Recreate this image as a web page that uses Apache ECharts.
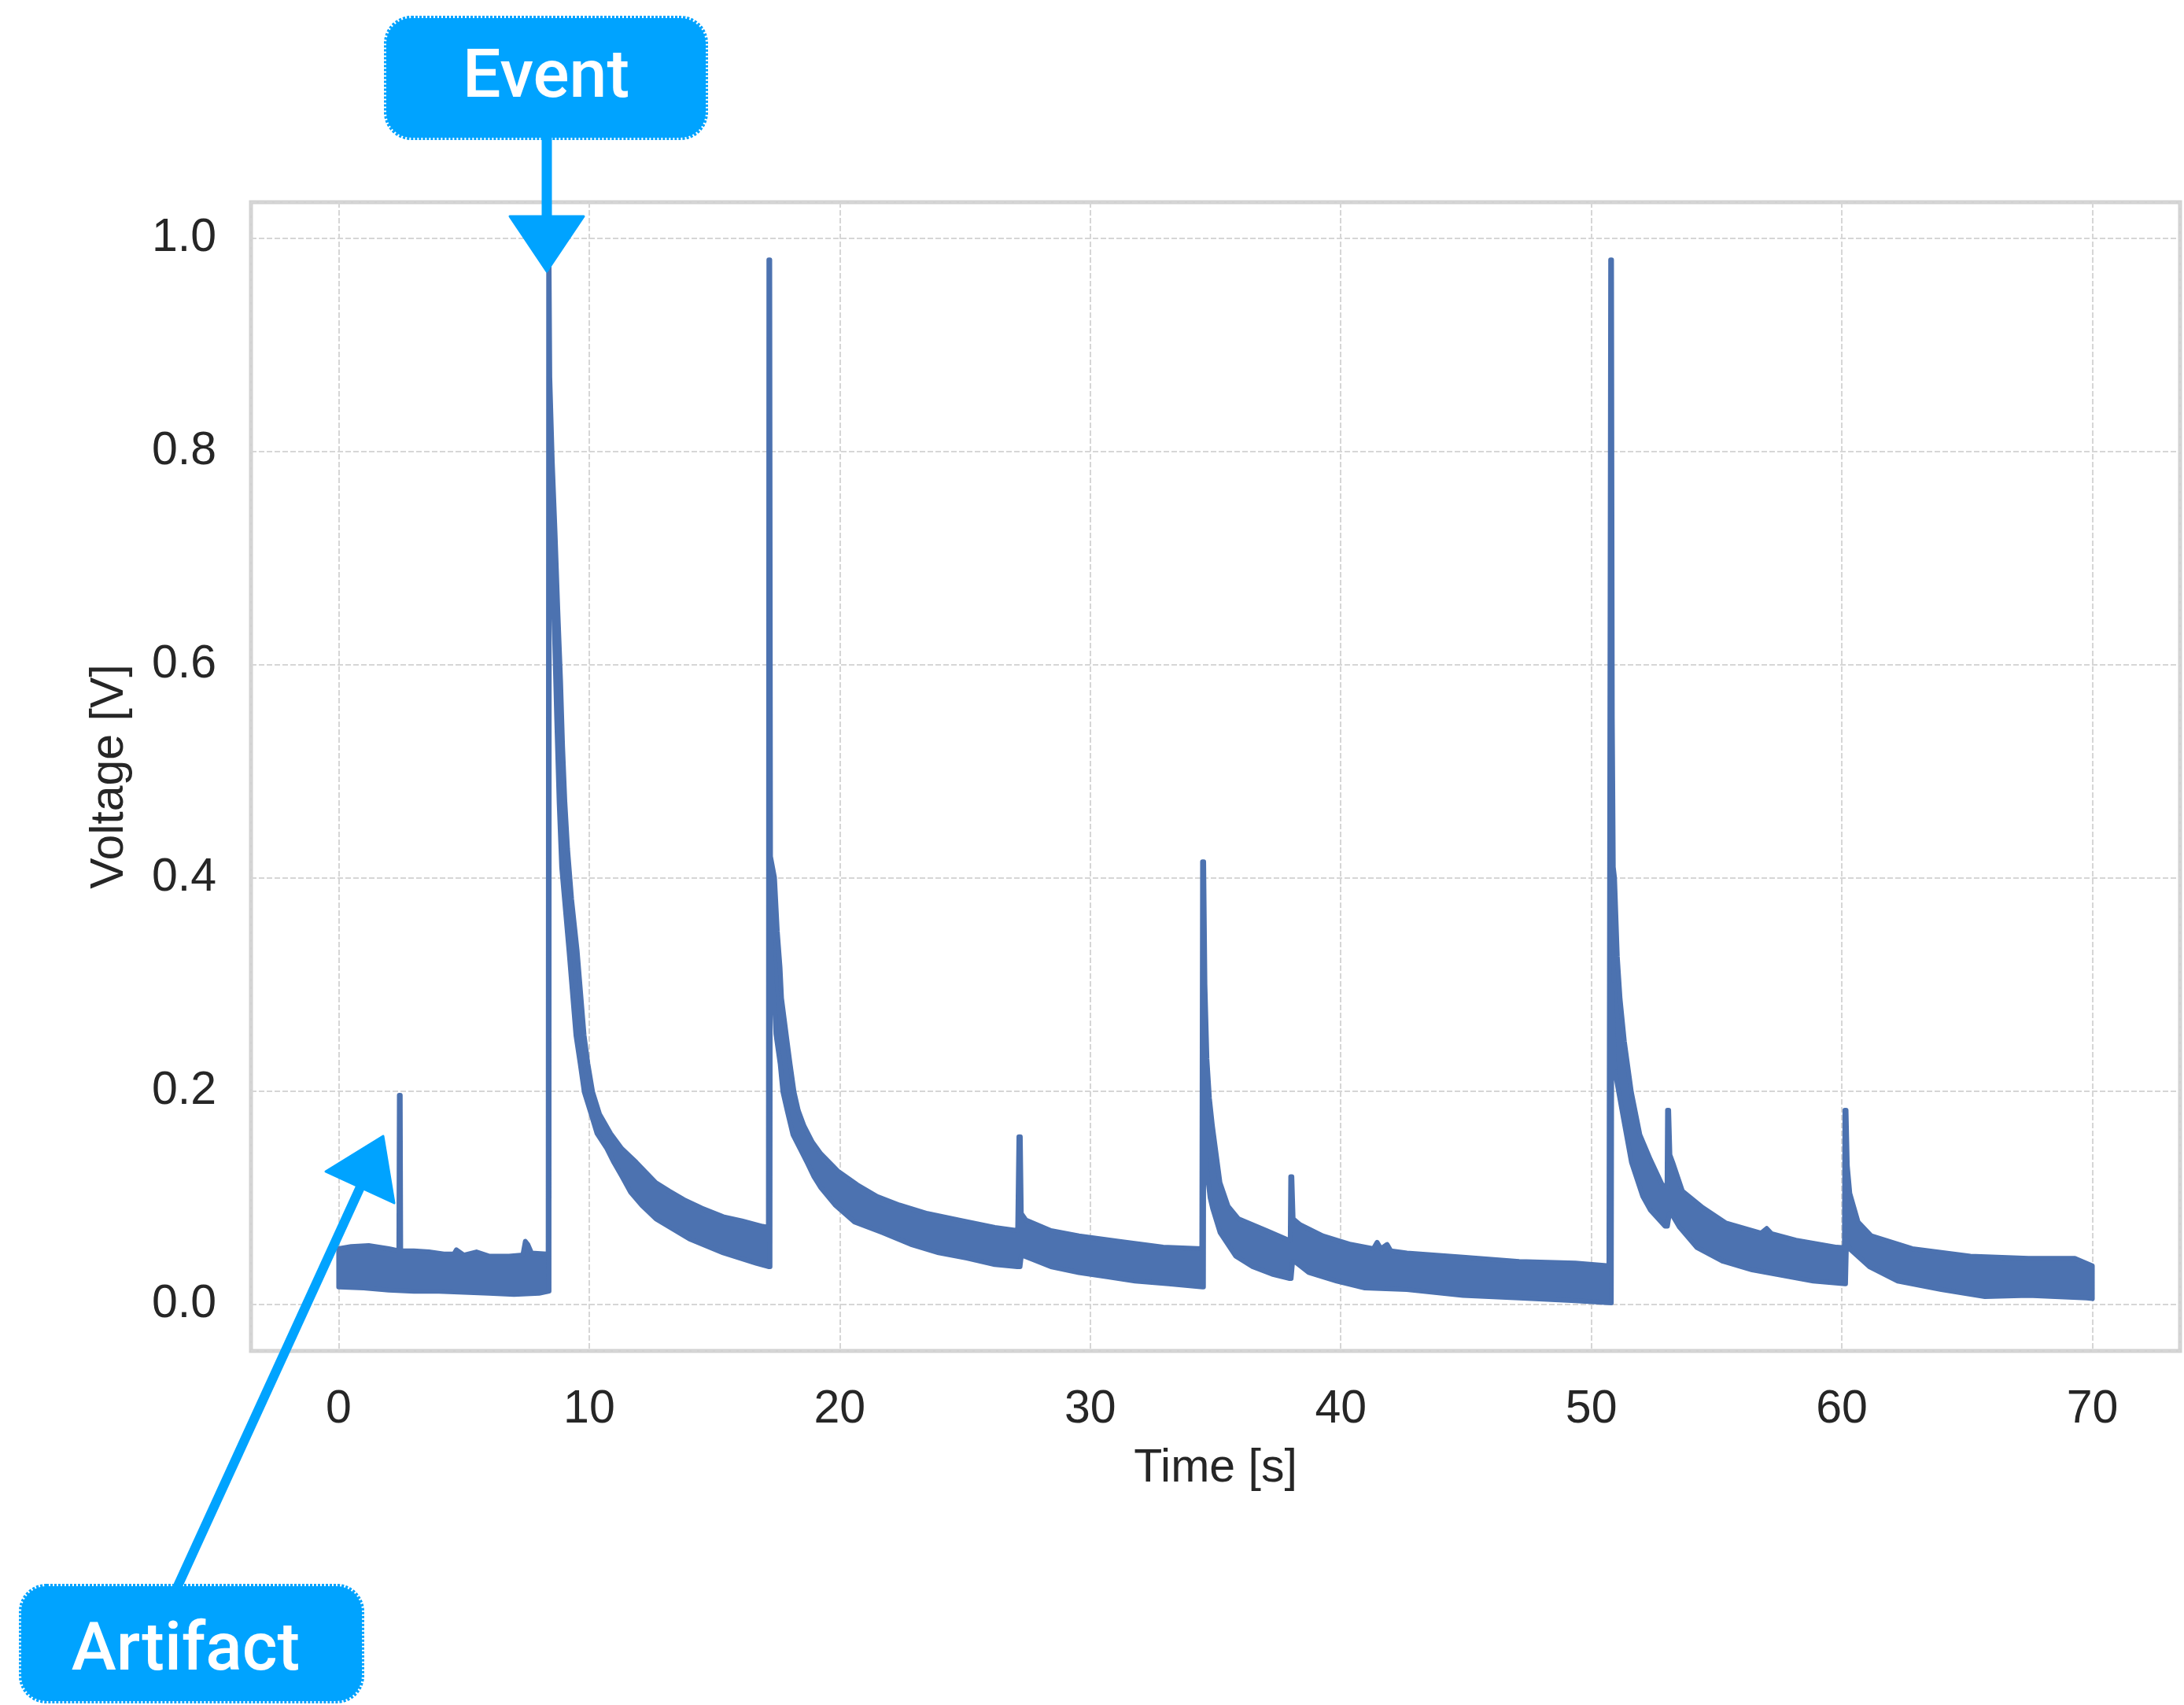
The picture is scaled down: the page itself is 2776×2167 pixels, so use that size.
<!DOCTYPE html>
<html>
<head>
<meta charset="utf-8">
<script src="https://cdn.jsdelivr.net/npm/echarts@6/dist/echarts.min.js"></script>
<style>
html,body{margin:0;padding:0;background:#fff;}
#chart{width:2776px;height:2167px;}
</style>
</head>
<body>
<div id="chart"></div>
<script>
// ---- Data: upper and lower envelope of the noisy voltage trace ----
const upperTime = [
  0.00, 0.5, 1.2, 2.0, 2.40, 2.42, 2.46, 2.48, 3.0, 3.6, 4.2, 4.6, 4.7, 5.0, 5.5, 6.0, 6.8, 7.35, 7.45, 7.55, 7.7, 8.3, 8.36,
  8.38, 8.40, 8.43, 8.53, 8.64, 8.75, 8.86, 8.94, 9.03, 9.14, 9.30, 9.52, 9.80, 9.95, 10.14, 10.42, 10.86, 11.30, 11.88, 12.66, 13.2, 13.78, 14.5, 15.35, 16.1, 16.92, 17.15,
  17.17, 17.21, 17.24, 17.40, 17.51, 17.62, 17.68, 17.90, 18.02, 18.18, 18.35, 18.58, 18.91, 19.25, 19.92, 20.70, 21.49, 22.38, 23.50, 24.85, 26.19, 27.10, 27.15, 27.21, 27.25, 27.43, 28.43, 29.55, 31.23, 32.91, 34.45,
  34.48, 34.53, 34.58, 34.66, 34.76, 34.88, 35.18, 35.5, 35.92, 37.04, 37.82, 37.98, 38.00, 38.05, 38.10, 38.38, 39.28, 40.40, 41.3, 41.45, 41.6, 41.85, 42.0, 42.64, 44.88, 47.12, 49.36, 50.70,
  50.77, 50.81, 50.84, 50.88, 50.93, 51.04, 51.15, 51.32, 51.60, 51.94, 52.36, 52.83, 53.02, 53.04, 53.09, 53.14, 53.25, 53.64, 54.45, 55.38, 56.77, 57.0, 57.2, 58.17, 59.79, 60.10,
  60.12, 60.17, 60.22, 60.32, 60.65, 61.18, 62.81, 65.13, 67.45, 69.30, 70.0
];
const upperVolt = [
  0.052, 0.054, 0.055, 0.052, 0.050, 0.196, 0.196, 0.050, 0.050, 0.049, 0.047, 0.047, 0.051, 0.046, 0.049, 0.045, 0.045, 0.046, 0.059, 0.056, 0.048, 0.047, 0.047,
  0.980, 0.980, 0.870, 0.790, 0.724, 0.651, 0.585, 0.524, 0.472, 0.427, 0.380, 0.332, 0.252, 0.2255, 0.199, 0.178, 0.160, 0.146, 0.133, 0.114, 0.106, 0.098, 0.090, 0.082, 0.078, 0.073, 0.072,
  0.980, 0.980, 0.420, 0.400, 0.350, 0.316, 0.287, 0.247, 0.2255, 0.199, 0.1815, 0.167, 0.152, 0.141, 0.125, 0.112, 0.101, 0.093, 0.085, 0.0785, 0.072, 0.069, 0.157, 0.157, 0.085, 0.079, 0.069, 0.064, 0.0586, 0.0534, 0.052,
  0.415, 0.415, 0.300, 0.230, 0.193, 0.167, 0.114, 0.092, 0.080, 0.069, 0.061, 0.060, 0.1195, 0.1195, 0.080, 0.0745, 0.064, 0.056, 0.052, 0.058, 0.052, 0.056, 0.050, 0.048, 0.044, 0.040, 0.0385, 0.036,
  0.980, 0.980, 0.550, 0.410, 0.400, 0.326, 0.2865, 0.2467, 0.199, 0.159, 0.1355, 0.112, 0.110, 0.182, 0.182, 0.140, 0.133, 0.106, 0.0905, 0.076, 0.0666, 0.071, 0.066, 0.060, 0.0534, 0.053,
  0.182, 0.182, 0.130, 0.104, 0.077, 0.064, 0.052, 0.045, 0.043, 0.043, 0.036
];
const lowerTime = [
  0.00, 1.0, 2.0, 3.0, 4.0, 5.0, 6.0, 7.0, 8.0, 8.40,
  8.41, 8.50, 8.60, 8.70, 8.80, 8.90, 9.19, 9.47, 9.64, 9.80, 10.08, 10.31, 10.70, 10.98, 11.31, 11.65, 12.10, 12.66, 14.0, 15.35, 16.69, 17.18,
  17.22, 17.23, 17.32, 17.40, 17.45, 17.62, 17.73, 17.90, 18.13, 18.41, 18.69, 18.97, 19.25, 19.81, 20.59, 21.71, 22.83, 23.95, 25.07, 26.19, 27.09, 27.20, 27.25, 27.36, 28.43, 29.55, 30.67, 31.79, 33.13, 34.48,
  34.52, 34.54, 34.63, 34.78, 34.88, 35.18, 35.80, 36.48, 37.26, 37.93, 38.02, 38.08, 38.15, 38.72, 39.84, 40.96, 42.64, 44.88, 47.12, 49.36, 50.80,
  50.82, 50.93, 51.29, 51.60, 52.05, 52.36, 52.94, 53.04, 53.12, 53.19, 53.52, 54.21, 55.26, 56.42, 57.58, 58.86, 60.13,
  60.15, 60.19, 60.30, 61.10, 62.23, 63.97, 65.71, 67.45, 69.77, 70.0
];
const lowerVolt = [
  0.016, 0.015, 0.013, 0.012, 0.012, 0.011, 0.010, 0.009, 0.010, 0.012,
  0.840, 0.740, 0.640, 0.550, 0.470, 0.410, 0.332, 0.252, 0.2255, 0.199, 0.178, 0.160, 0.146, 0.133, 0.1195, 0.105, 0.0925, 0.080, 0.061, 0.048, 0.038, 0.035,
  0.035, 0.360, 0.300, 0.280, 0.2535, 0.2255, 0.199, 0.1815, 0.159, 0.146, 0.133, 0.1195, 0.109, 0.093, 0.077, 0.067, 0.056, 0.048, 0.043, 0.037, 0.035, 0.035, 0.045, 0.045, 0.035, 0.0295, 0.0255, 0.0215, 0.019, 0.016,
  0.016, 0.250, 0.130, 0.100, 0.090, 0.067, 0.045, 0.035, 0.028, 0.024, 0.024, 0.040, 0.040, 0.0295, 0.0215, 0.015, 0.0135, 0.008, 0.0056, 0.003, 0.001,
  0.300, 0.220, 0.173, 0.133, 0.101, 0.088, 0.073, 0.073, 0.085, 0.085, 0.072, 0.053, 0.040, 0.032, 0.027, 0.0215, 0.019,
  0.019, 0.060, 0.052, 0.035, 0.0215, 0.0136, 0.007, 0.008, 0.0056, 0.005
];
const xLimits = [-3.5, 73.5];
const yLimits = [-0.044, 1.034];
const xTitle = 'Time [s]';
const yTitle = 'Voltage [V]';
const annotations = ['Event', 'Artifact'];

const chart = echarts.init(document.getElementById('chart'), null, {renderer: 'canvas'});
const labelFont = 'Liberation Sans, Arial, sans-serif';
const gridLine = {show: true, lineStyle: {color: '#d6d6d6', width: 2, type: [7, 3]}};
const ACCENT = '#00A3FF';
const boxStyle = {fill: ACCENT, stroke: ACCENT, lineWidth: 6, lineDash: [3, 2]};

const option = {
  backgroundColor: '#ffffff',
  animation: false,
  grid: {left: 319, right: 5, top: 257, bottom: 450, show: true, borderColor: '#d2d2d2', borderWidth: 5, backgroundColor: '#ffffff'},
  xAxis: {
    type: 'value', min: xLimits[0], max: xLimits[1], splitNumber: 8,
    axisLine: {show: false}, axisTick: {show: false},
    axisLabel: {showMinLabel: false, showMaxLabel: false, fontSize: 59, color: '#262626', margin: 45, fontFamily: labelFont},
    splitLine: gridLine,
    name: xTitle, nameLocation: 'middle', nameGap: 120,
    nameTextStyle: {fontSize: 59, color: '#262626', fontFamily: labelFont}
  },
  yAxis: {
    type: 'value', min: yLimits[0], max: yLimits[1], splitNumber: 5,
    axisLine: {show: false}, axisTick: {show: false},
    axisLabel: {showMinLabel: false, showMaxLabel: false, fontSize: 59, color: '#262626', margin: 44, fontFamily: labelFont,
      formatter: v => v.toFixed(1)},
    splitLine: gridLine,
    name: yTitle, nameLocation: 'middle', nameGap: 150,
    nameTextStyle: {fontSize: 59, color: '#262626', fontFamily: labelFont}
  },
  series: [{
    type: 'custom',
    data: [[35, 0.5]],
    encode: {x: 0, y: 1},
    renderItem: function (params, api) {
      const pts = [];
      for (let i = 0; i < upperTime.length; i++) pts.push(api.coord([upperTime[i], upperVolt[i]]));
      for (let i = lowerTime.length - 1; i >= 0; i--) pts.push(api.coord([lowerTime[i], lowerVolt[i]]));
      return {type: 'polygon', shape: {points: pts},
        style: {fill: '#4C72B0', stroke: '#4C72B0', lineWidth: 6, lineJoin: 'round'}};
    },
    z: 3
  }],
  graphic: [
    // Event callout
    {type: 'rect', shape: {x: 491, y: 23, width: 406, height: 152, r: 32}, style: boxStyle, z: 100},
    {type: 'text', x: 694, y: 101, style: {text: annotations[0], fill: '#ffffff', fontSize: 86, fontWeight: 500, fontFamily: 'Roboto, Liberation Sans, sans-serif', align: 'center', verticalAlign: 'middle'}, z: 101},
    {type: 'line', shape: {x1: 695, y1: 170, x2: 695, y2: 285}, style: {stroke: ACCENT, lineWidth: 13}, z: 100},
    {type: 'polygon', shape: {points: [[648, 275], [742, 275], [695, 345]]}, style: {fill: ACCENT, stroke: ACCENT, lineWidth: 3, lineJoin: 'round'}, z: 100},
    // Artifact callout
    {type: 'rect', shape: {x: 27, y: 2016, width: 433, height: 146, r: 32}, style: boxStyle, z: 100},
    {type: 'text', x: 236, y: 2100, style: {text: annotations[1], fill: '#ffffff', fontSize: 86, fontWeight: 500, fontFamily: 'Roboto, Liberation Sans, sans-serif', align: 'center', verticalAlign: 'middle'}, z: 101},
    {type: 'line', shape: {x1: 224, y1: 2020, x2: 462, y2: 1500}, style: {stroke: ACCENT, lineWidth: 12}, z: 100},
    {type: 'polygon', shape: {points: [[414, 1489], [501, 1529], [487, 1444]]}, style: {fill: ACCENT, stroke: ACCENT, lineWidth: 3, lineJoin: 'round'}, z: 100}
  ]
};
chart.setOption(option);
</script>
</body>
</html>
